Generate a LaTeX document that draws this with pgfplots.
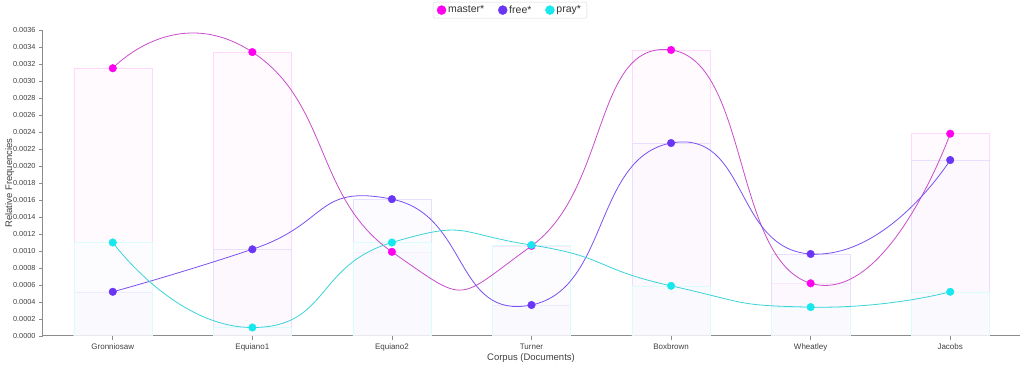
\documentclass[border=0pt]{standalone}
\usepackage{fontspec}
\setmainfont{Liberation Sans}
\usepackage{pgfplots}
\pgfplotsset{compat=1.18}
\definecolor{mdot}{HTML}{FF00F0}
\definecolor{mline}{HTML}{C84CCB}
\definecolor{fdot}{HTML}{6A35F5}
\definecolor{fline}{HTML}{7A50F0}
\definecolor{pdot}{HTML}{18E8EE}
\definecolor{pline}{HTML}{3AD4D8}
\begin{document}
\begin{tikzpicture}
\useasboundingbox (0,0) rectangle (1024pt,369pt);
\begin{axis}[at={(43pt,33pt)}, anchor=south west, scale only axis,
  width=977pt, height=306pt,
  xmin=-0.5, xmax=6.5, ymin=0, ymax=0.0036,
  axis x line*=bottom, axis y line*=left,
  axis line style={-, draw=black!45, line width=1pt},
  xtick={0,...,6},
  xticklabels={Gronniosaw,Equiano1,Equiano2,Turner,Boxbrown,Wheatley,Jacobs},
  ytick distance=0.0002, scaled y ticks=false,
  yticklabel style={font=\fontsize{7.3}{8}\selectfont, text=black!75,
    /pgf/number format/.cd, fixed, fixed zerofill, precision=4, assume math mode=true},
  tick align=outside, major tick length=4pt,
  tick style={draw=black!45, line width=0.8pt},
  xticklabel style={font=\fontsize{8}{9}\selectfont, text=black!75},
  xlabel={Corpus (Documents)}, ylabel={Relative Frequencies},
  xlabel style={font=\fontsize{9.5}{11}\selectfont, text=black!75, at={(axis description cs:0.4995,-0.072)}, anchor=center},
  ylabel style={font=\fontsize{9.5}{11}\selectfont, text=black!75, at={(axis description cs:-0.034,0.5)}, anchor=center},
  legend image post style={mark size=4.5pt},
  legend style={at={(axis description cs:0.478,1.065)}, anchor=center, legend columns=3,
    draw=black!15, rounded corners=2pt, font=\fontsize{10.5}{12}\selectfont, text=black!80,
    /tikz/every even column/.append style={column sep=12pt}, inner xsep=4pt, inner ysep=1.5pt},
]
% bars
\addplot[ybar, bar width=0.56, bar shift=0pt, draw=mdot!15, fill=mdot!4, fill opacity=0.5, forget plot]
  coordinates {(0,0.00315) (1,0.00334) (2,0.00099) (3,0.00106) (4,0.003365) (5,0.00062) (6,0.00238)};
\addplot[ybar, bar width=0.56, bar shift=0pt, draw=fdot!16, fill=fdot!4, fill opacity=0.5, forget plot]
  coordinates {(0,0.00052) (1,0.00102) (2,0.00161) (3,0.000365) (4,0.00227) (5,0.000965) (6,0.00207)};
\addplot[ybar, bar width=0.56, bar shift=0pt, draw=pdot!15, fill=pdot!3, fill opacity=0.4, forget plot]
  coordinates {(0,0.0011) (1,0.0001) (2,0.0011) (3,0.00107) (4,0.00059) (5,0.00034) (6,0.00052)};
% lines
\addplot[smooth, tension=1.0, mline, line width=0.8pt, forget plot]
  coordinates {(0,0.00315) (1,0.00334) (2,0.00099) (3,0.00106) (4,0.003365) (5,0.00062) (6,0.00238)};
\addplot[smooth, tension=1.0, fline, line width=0.8pt, forget plot]
  coordinates {(0,0.00052) (1,0.00102) (2,0.00161) (3,0.000365) (4,0.00227) (5,0.000965) (6,0.00207)};
\addplot[smooth, tension=1.0, pline, line width=0.8pt, forget plot]
  coordinates {(0,0.0011) (1,0.0001) (2,0.0011) (3,0.00107) (4,0.00059) (5,0.00034) (6,0.00052)};
% markers
\addplot[only marks, mark=*, mark size=3.8pt, mdot]
  coordinates {(0,0.00315) (1,0.00334) (2,0.00099) (3,0.00106) (4,0.003365) (5,0.00062) (6,0.00238)};
\addplot[only marks, mark=*, mark size=3.8pt, fdot]
  coordinates {(0,0.00052) (1,0.00102) (2,0.00161) (3,0.000365) (4,0.00227) (5,0.000965) (6,0.00207)};
\addplot[only marks, mark=*, mark size=3.8pt, pdot]
  coordinates {(0,0.0011) (1,0.0001) (2,0.0011) (3,0.00107) (4,0.00059) (5,0.00034) (6,0.00052)};
\legend{master*, free*, pray*}
\end{axis}
\end{tikzpicture}
\end{document}
